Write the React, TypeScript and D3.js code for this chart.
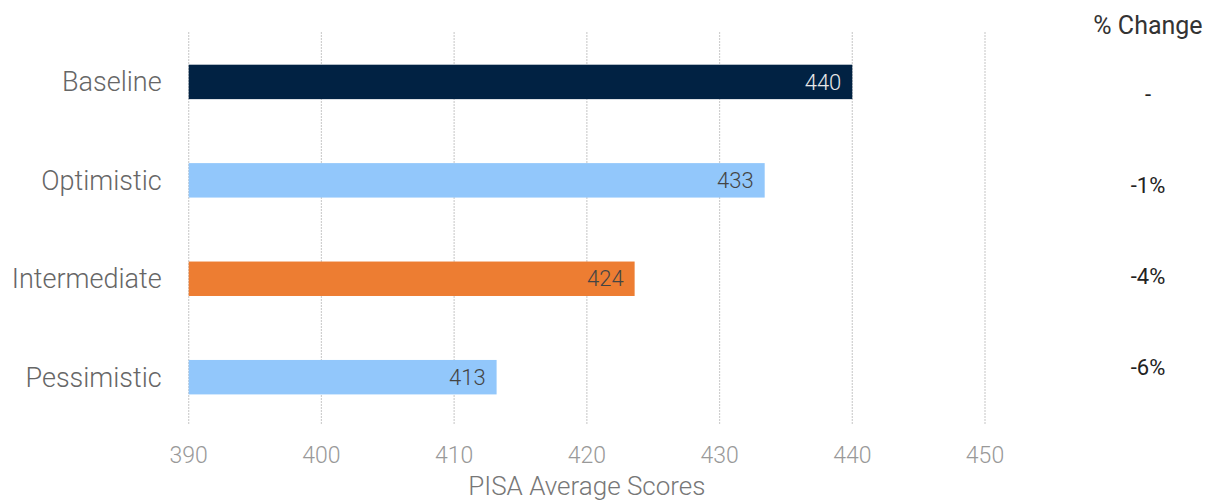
import React from "react";
import * as d3 from "d3";

const categories = ["Baseline", "Optimistic", "Intermediate", "Pessimistic"];
const scores = [440, 433.4, 423.6, 413.2];
const valueLabels = ["440", "433", "424", "413"];
const changeLabels = ["-", "-1%", "-4%", "-6%"];
const xTicks = [390, 400, 410, 420, 430, 440, 450];
const barColors = ["#012243", "#92c7fb", "#ed7d32", "#92c7fb"];
const valueLabelColors = ["#e8e8e8", "#444444", "#444444", "#444444"];

const W = 1207;
const H = 501;
const FONT = "Roboto, 'Liberation Sans', sans-serif";

export default function App() {
  const x = d3.scaleLinear().domain([390, 450]).range([188.7, 985]);
  const y = d3
    .scaleBand<string>()
    .domain(categories)
    .range([33.2, 425.9])
    .paddingInner(0.65)
    .paddingOuter(0.32);
  const yc = d3.scalePoint<string>().domain(categories).range([94, 367]);

  return (
    <svg
      width={W}
      height={H}
      style={{ position: "absolute", left: 0, top: 0, background: "#fff" }}
      fontFamily={FONT}
    >
      {xTicks.map((t) => (
        <line
          key={"g" + t}
          x1={x(t)}
          x2={x(t)}
          y1={32}
          y2={425}
          stroke="#cfcfcf"
          strokeWidth={1.2}
          strokeDasharray="2 1"
        />
      ))}
      {categories.map((c, i) => (
        <g key={c}>
          <rect
            x={x(390)}
            y={y(c)}
            width={x(scores[i]) - x(390)}
            height={y.bandwidth()}
            fill={barColors[i]}
          />
          <text
            x={x(390) - 27}
            y={y(c)! + y.bandwidth() / 2}
            dy="0.35em"
            textAnchor="end"
            fontSize={27}
            fontWeight={300}
            fill="#666"
          >
            {c}
          </text>
          <text
            x={x(scores[i]) - 11}
            y={y(c)! + y.bandwidth() / 2}
            dy="0.35em"
            textAnchor="end"
            fontSize={22}
            fontWeight={300}
            fill={valueLabelColors[i]}
          >
            {valueLabels[i]}
          </text>
          <text
            x={1148}
            y={yc(c)}
            dy="0.35em"
            textAnchor="middle"
            fontSize={22}
            fill="#222"
          >
            {changeLabels[i]}
          </text>
        </g>
      ))}
      <text x={1148} y={25} dy="0.35em" textAnchor="middle" fontSize={25} fill="#333">
        % Change
      </text>
      {xTicks.map((t) => (
        <text
          key={"t" + t}
          x={x(t)}
          y={455}
          dy="0.35em"
          textAnchor="middle"
          fontSize={23}
          fontWeight={300}
          fill="#999"
        >
          {t}
        </text>
      ))}
      <text
        x={x(420)}
        y={495}
        textAnchor="middle"
        fontSize={26}
        fontWeight={300}
        fill="#777"
      >
        PISA Average Scores
      </text>
    </svg>
  );
}
